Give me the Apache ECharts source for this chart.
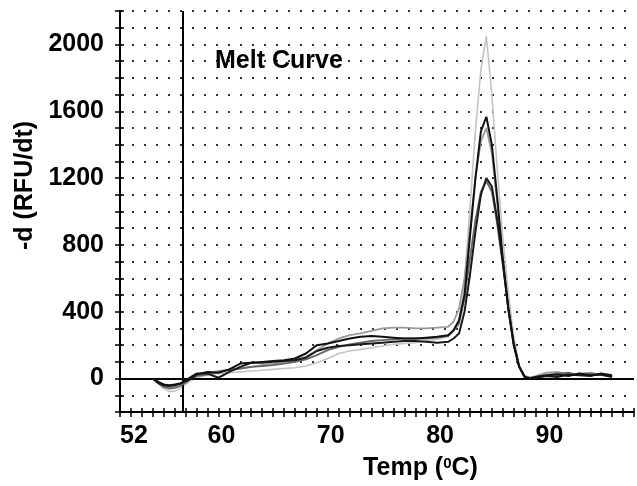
<!DOCTYPE html>
<html><head><meta charset="utf-8">
<script src="https://cdn.jsdelivr.net/npm/echarts@6/dist/echarts.min.js"></script>
<style>html,body{margin:0;padding:0;background:#fff}#c{width:637px;height:486px}</style>
</head><body><div id="c"></div>
<script>
// Temperature sample points (°C)
const temps = [55,55.5,56,56.5,57,57.5,58,58.5,59,
  60,61,62,63,64,65,66,67,68,69,70,71,72,73,74,75,76,77,78,79,80,81,82,
  82.5,83,83.5,84,84.5,85,85.5,86,86.5,87,87.5,88,88.5,89,89.5,90,
  91,92,93,94,95,96,97];

// -d(RFU)/dt values for each sample
const sampleA = [0,-30,-60,-78,-75,-60,-35,-10,5,
  20,30,35,40,45,50,55,60,65,75,95,120,150,165,175,185,195,205,210,215,225,235,250,
  290,340,570,1025,1480,1850,2050,1700,1250,850,520,250,80,10,0,5,
  15,20,30,25,35,20,15];
const sampleB = [0,-20,-35,-40,-36,-30,-15,0,25,
  40,35,55,90,95,100,105,110,120,150,200,210,225,240,250,255,250,245,240,240,245,250,260,
  290,350,500,850,1200,1480,1567,1400,1080,720,420,200,70,10,0,10,
  20,25,15,30,20,25,10];
const sampleC = [0,-25,-45,-55,-50,-40,-20,0,20,
  35,45,55,60,70,80,90,100,110,130,170,210,240,260,270,285,300,305,305,300,300,305,310,
  340,420,600,900,1200,1420,1500,1350,1050,720,420,210,75,15,5,15,
  35,40,25,30,35,20,15];
const sampleD = [0,-25,-40,-45,-40,-30,-10,10,30,
  30,5,40,70,95,95,100,105,110,125,165,185,195,200,205,210,215,220,225,225,220,215,220,
  240,270,400,620,880,1100,1200,1150,950,700,430,210,70,10,0,5,
  15,10,25,20,15,30,20];
const sampleE = [0,-30,-50,-60,-55,-45,-25,0,15,
  25,40,50,60,70,75,80,90,100,115,140,170,190,205,215,225,230,235,240,240,240,245,255,
  285,330,480,720,950,1120,1180,1120,920,680,420,210,75,15,5,10,
  20,30,35,20,30,25,15];

const xTickLabels = [52,60,70,80,90];
const yTickLabels = [0,400,800,1200,1600,2000];
const markerTemp = 57.7;

const font = '"Liberation Sans", Arial, sans-serif';
const chart = echarts.init(document.getElementById('c'), null, {renderer:'canvas'});
function pairs(ys){ return temps.map((t,i)=>[t, ys[i]]); }

const defs = [
  {name:'A', data:sampleA, color:'#c4c4c4', w:1.6},
  {name:'C', data:sampleC, color:'#9a9a9a', w:1.8},
  {name:'E', data:sampleE, color:'#666666', w:1.8},
  {name:'D', data:sampleD, color:'#1a1a1a', w:2},
  {name:'B', data:sampleB, color:'#111111', w:2}
];

const series = defs.map((d,i)=>({
  type:'line', name:d.name, data:pairs(d.data), showSymbol:false, symbol:'none',
  lineStyle:{color:d.color, width:d.w}, z:3+i
}));
series.push({
  type:'line', data:[], silent:true,
  markLine:{symbol:'none', silent:true, animation:false, label:{show:false},
    lineStyle:{color:'#000', width:2, type:'solid'},
    data:[{yAxis:0},{xAxis:markerTemp}]}
});

const labelStyle = {color:'#000', fontFamily:font, fontWeight:'bold', fontSize:25};

chart.setOption({
  animation:false,
  backgroundColor:'#fff',
  title:{text:'Melt Curve', left:215, top:49, padding:0,
    textStyle:{color:'#000', fontFamily:font, fontWeight:'bold', fontSize:25}},
  grid:{left:120, top:11, right:0, bottom:74},
  xAxis:[{type:'value', min:52, max:99, interval:1,
    axisLine:{onZero:false, lineStyle:{color:'#000', width:2}},
    axisTick:{show:true, length:5, lineStyle:{color:'#000', width:1.5}},
    axisLabel:Object.assign({interval:0, align:'left', margin:12,
      formatter:v=>xTickLabels.includes(v)?String(v):''}, labelStyle),
    splitLine:{show:false},
    name:'Temp ({sup|0}C)', nameLocation:'middle', nameGap:44,
    nameTextStyle:Object.assign({padding:[0,0,0,87],
      rich:{sup:{fontSize:15, fontWeight:'bold', fontFamily:font, color:'#000', verticalAlign:'top', padding:[0,0,10,0]}}}, labelStyle)
  },{type:'value', min:52, max:99, interval:1, position:'bottom',
    axisLine:{show:false, onZero:false},
    axisTick:{show:true, inside:true, length:4, lineStyle:{color:'#000', width:1.5}},
    axisLabel:{show:false}, splitLine:{show:false}
  }],
  yAxis:[{type:'value', min:-200, max:2200, interval:100,
    axisLine:{show:true, lineStyle:{color:'#000', width:2}},
    axisTick:{show:true, length:5, lineStyle:{color:'#000', width:1.5}},
    axisLabel:Object.assign({margin:16,
      formatter:v=>yTickLabels.includes(v)?String(v):''}, labelStyle),
    splitLine:{show:true, lineStyle:{color:'#333', width:2, type:[2,10]}},
    name:'-d (RFU/dt)', nameLocation:'middle', nameGap:76,
    nameTextStyle:Object.assign({padding:[0,0,0,52]}, labelStyle)
  },{type:'value', min:-200, max:2200, interval:100, position:'left',
    axisLine:{show:false},
    axisTick:{show:true, inside:true, length:4, lineStyle:{color:'#000', width:1.5}},
    axisLabel:{show:false}, splitLine:{show:false}
  }],
  series:series
});
</script></body></html>
